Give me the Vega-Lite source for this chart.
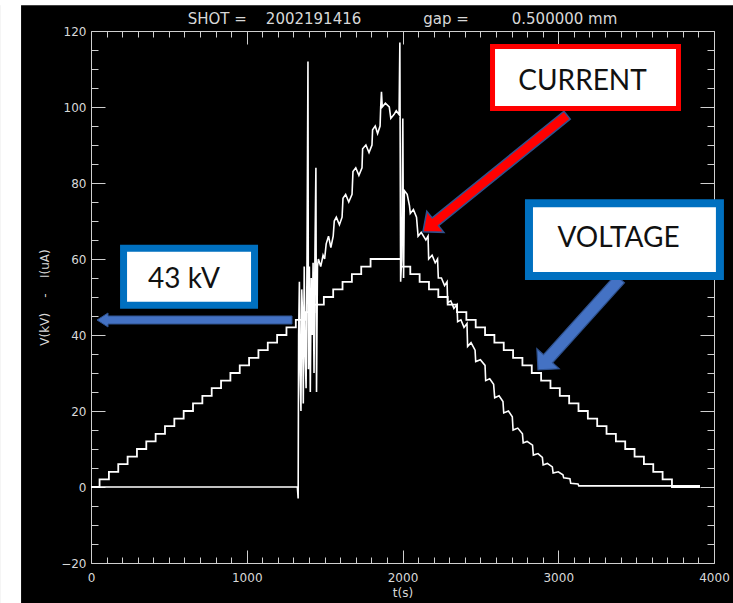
{
  "$schema": "https://vega.github.io/schema/vega-lite/v6.json",
  "width": 623,
  "height": 532,
  "autosize": {"type": "none"},
  "padding": {"left": 91, "top": 31, "right": 19, "bottom": 40},
  "background": "black",
  "config": {
    "view": {"stroke": null},
    "axis": {
      "grid": false,
      "domainColor": "#cfcfcf",
      "tickColor": "#cfcfcf",
      "labelColor": "#d8d8d8",
      "titleColor": "#d8d8d8",
      "labelFont": "DejaVu Sans",
      "titleFont": "DejaVu Sans",
      "labelFontSize": 12,
      "titleFontSize": 12,
      "titleFontWeight": "normal",
      "labelFlush": false,
      "labelOverlap": false,
      "domainWidth": 1,
      "tickWidth": 1
    }
  },
  "title": {
    "text": "SHOT =\u00a0\u00a0\u00a0\u00a02002191416\u00a0\u00a0\u00a0\u00a0\u00a0\u00a0\u00a0\u00a0\u00a0\u00a0\u00a0\u00a0\u00a0gap =\u00a0\u00a0\u00a0\u00a0\u00a0\u00a0\u00a0\u00a0\u00a00.500000 mm",
    "color": "#d8d8d8",
    "font": "DejaVu Sans",
    "fontSize": 15,
    "fontWeight": "normal",
    "anchor": "middle",
    "frame": "group",
    "offset": -27
  },
  "datasets": {
    "voltage": [
      {"t": 0, "v": 0}, {"t": 55, "v": 2}, {"t": 115, "v": 4}, {"t": 175, "v": 6}, {"t": 235, "v": 8},
      {"t": 295, "v": 10}, {"t": 355, "v": 12}, {"t": 415, "v": 14}, {"t": 475, "v": 16}, {"t": 535, "v": 18},
      {"t": 595, "v": 20}, {"t": 655, "v": 22}, {"t": 715, "v": 24}, {"t": 775, "v": 26}, {"t": 835, "v": 28},
      {"t": 895, "v": 30}, {"t": 955, "v": 32}, {"t": 1015, "v": 34}, {"t": 1075, "v": 36}, {"t": 1135, "v": 38},
      {"t": 1195, "v": 40}, {"t": 1255, "v": 42}, {"t": 1315, "v": 44}, {"t": 1375, "v": 46}, {"t": 1435, "v": 48},
      {"t": 1495, "v": 50}, {"t": 1555, "v": 52}, {"t": 1615, "v": 54}, {"t": 1675, "v": 56}, {"t": 1735, "v": 58},
      {"t": 1795, "v": 60}, {"t": 1990, "v": 58}, {"t": 2050, "v": 56}, {"t": 2110, "v": 54}, {"t": 2170, "v": 52},
      {"t": 2230, "v": 50}, {"t": 2290, "v": 48}, {"t": 2350, "v": 46}, {"t": 2410, "v": 44}, {"t": 2470, "v": 42},
      {"t": 2530, "v": 40}, {"t": 2590, "v": 38}, {"t": 2650, "v": 36}, {"t": 2710, "v": 34}, {"t": 2770, "v": 32},
      {"t": 2830, "v": 30}, {"t": 2890, "v": 28}, {"t": 2950, "v": 26}, {"t": 3010, "v": 24}, {"t": 3070, "v": 22},
      {"t": 3130, "v": 20}, {"t": 3190, "v": 18}, {"t": 3250, "v": 16}, {"t": 3310, "v": 14}, {"t": 3370, "v": 12},
      {"t": 3430, "v": 10}, {"t": 3490, "v": 8}, {"t": 3550, "v": 6}, {"t": 3610, "v": 4}, {"t": 3670, "v": 2},
      {"t": 3730, "v": 0}, {"t": 3910, "v": 0}
    ],
    "current": [
      {"t": 0, "i": 0}, {"t": 1325, "i": 0}, {"t": 1330, "i": -3}, {"t": 1333, "i": 40}, {"t": 1338, "i": 54},
      {"t": 1343, "i": 30}, {"t": 1348, "i": 20}, {"t": 1353, "i": 52}, {"t": 1358, "i": 46}, {"t": 1363, "i": 22},
      {"t": 1369, "i": 58}, {"t": 1375, "i": 35}, {"t": 1381, "i": 26}, {"t": 1387, "i": 60}, {"t": 1393, "i": 112},
      {"t": 1396, "i": 31}, {"t": 1402, "i": 58}, {"t": 1408, "i": 25}, {"t": 1414, "i": 55}, {"t": 1420, "i": 40},
      {"t": 1426, "i": 59}, {"t": 1432, "i": 30}, {"t": 1438, "i": 62}, {"t": 1444, "i": 84}, {"t": 1448, "i": 25},
      {"t": 1454, "i": 58}, {"t": 1460, "i": 60}, {"t": 1475, "i": 58}, {"t": 1490, "i": 61}, {"t": 1500, "i": 60},
      {"t": 1510, "i": 64}, {"t": 1525, "i": 66}, {"t": 1540, "i": 63}, {"t": 1555, "i": 66}, {"t": 1562, "i": 70},
      {"t": 1575, "i": 71}, {"t": 1595, "i": 69}, {"t": 1612, "i": 71}, {"t": 1618, "i": 76}, {"t": 1635, "i": 77},
      {"t": 1655, "i": 75}, {"t": 1676, "i": 77}, {"t": 1682, "i": 83}, {"t": 1700, "i": 84}, {"t": 1720, "i": 82},
      {"t": 1740, "i": 84}, {"t": 1744, "i": 89}, {"t": 1765, "i": 90}, {"t": 1785, "i": 88}, {"t": 1804, "i": 90},
      {"t": 1808, "i": 94}, {"t": 1825, "i": 95}, {"t": 1840, "i": 93}, {"t": 1856, "i": 95}, {"t": 1860, "i": 100},
      {"t": 1865, "i": 104}, {"t": 1870, "i": 100}, {"t": 1890, "i": 101}, {"t": 1915, "i": 100}, {"t": 1925, "i": 97},
      {"t": 1945, "i": 98}, {"t": 1960, "i": 99}, {"t": 1978, "i": 98}, {"t": 1983, "i": 117}, {"t": 1988, "i": 54},
      {"t": 1995, "i": 60}, {"t": 2002, "i": 97}, {"t": 2007, "i": 55}, {"t": 2012, "i": 78}, {"t": 2030, "i": 77},
      {"t": 2045, "i": 74}, {"t": 2050, "i": 72}, {"t": 2070, "i": 73}, {"t": 2090, "i": 71}, {"t": 2100, "i": 66},
      {"t": 2120, "i": 67}, {"t": 2150, "i": 65}, {"t": 2164, "i": 66}, {"t": 2168, "i": 60}, {"t": 2190, "i": 61},
      {"t": 2210, "i": 59}, {"t": 2225, "i": 60}, {"t": 2230, "i": 55}, {"t": 2250, "i": 55}, {"t": 2270, "i": 53},
      {"t": 2286, "i": 54}, {"t": 2290, "i": 48.5}, {"t": 2310, "i": 49}, {"t": 2330, "i": 47}, {"t": 2350, "i": 48},
      {"t": 2354, "i": 43.5}, {"t": 2375, "i": 44}, {"t": 2395, "i": 42}, {"t": 2414, "i": 43}, {"t": 2418, "i": 37},
      {"t": 2440, "i": 38}, {"t": 2466, "i": 36}, {"t": 2470, "i": 33}, {"t": 2500, "i": 33.5}, {"t": 2530, "i": 32},
      {"t": 2534, "i": 28}, {"t": 2560, "i": 28.5}, {"t": 2585, "i": 27}, {"t": 2592, "i": 23.5}, {"t": 2620, "i": 24},
      {"t": 2645, "i": 22.5}, {"t": 2650, "i": 19.5}, {"t": 2680, "i": 20}, {"t": 2705, "i": 18.5}, {"t": 2710, "i": 15},
      {"t": 2740, "i": 15.5}, {"t": 2770, "i": 14}, {"t": 2775, "i": 11.6}, {"t": 2800, "i": 12}, {"t": 2835, "i": 11},
      {"t": 2840, "i": 8.4}, {"t": 2870, "i": 8.8}, {"t": 2898, "i": 7.8}, {"t": 2903, "i": 5.8}, {"t": 2930, "i": 6.2},
      {"t": 2962, "i": 5.3}, {"t": 2967, "i": 3.7}, {"t": 3000, "i": 4}, {"t": 3030, "i": 3.2}, {"t": 3035, "i": 2.4},
      {"t": 3075, "i": 2.2}, {"t": 3080, "i": 1}, {"t": 3127, "i": 0.8}, {"t": 3132, "i": 0.3}, {"t": 3910, "i": 0.3}
    ]
  },
  "resolve": {"axis": {"x": "independent", "y": "independent"}},
  "layer": [
    {
      "data": {"values": [{}]},
      "mark": {"type": "rect", "color": "white", "clip": false},
      "encoding": {
        "x": {"datum": -584, "type": "quantitative", "scale": {"domain": [0, 4000], "nice": false, "zero": false}, "axis": null},
        "x2": {"datum": -449},
        "y": {"datum": 128.2, "type": "quantitative", "scale": {"domain": [-20, 120], "nice": false, "zero": false}, "axis": null},
        "y2": {"datum": -30.6}
      }
    },
    {
      "data": {"values": [{}]},
      "mark": {"type": "rect", "color": "white", "clip": false},
      "encoding": {
        "x": {"datum": -584, "type": "quantitative", "scale": {"domain": [0, 4000], "nice": false, "zero": false}, "axis": null},
        "x2": {"datum": 4200},
        "y": {"datum": 128.2, "type": "quantitative", "scale": {"domain": [-20, 120], "nice": false, "zero": false}, "axis": null},
        "y2": {"datum": 126.8}
      }
    },
    {
      "data": {"name": "voltage"},
      "mark": {"type": "line", "color": "white", "strokeWidth": 1.8, "interpolate": "step-after", "clip": true},
      "encoding": {
        "x": {
          "field": "t", "type": "quantitative",
          "scale": {"domain": [0, 4000], "nice": false, "zero": false},
          "axis": {
            "orient": "bottom",
            "values": [0, 1000, 2000, 3000, 4000],
            "format": "d",
            "tickSize": -13,
            "labelPadding": 22,
            "title": "t(s)",
            "titlePadding": 4
          }
        },
        "y": {
          "field": "v", "type": "quantitative",
          "scale": {"domain": [-20, 120], "nice": false, "zero": false},
          "axis": {
            "orient": "left",
            "values": [-20, 0, 20, 40, 60, 80, 100, 120],
            "format": "d",
            "tickSize": -14,
            "labelPadding": 19,
            "title": "V(kV)\u00a0\u00a0\u00a0\u00a0-\u00a0\u00a0\u00a0\u00a0I(uA)",
            "titlePadding": 9
          }
        }
      }
    },
    {
      "data": {"name": "current"},
      "mark": {"type": "line", "color": "white", "strokeWidth": 1.6, "clip": true},
      "encoding": {
        "x": {
          "field": "t", "type": "quantitative",
          "scale": {"domain": [0, 4000], "nice": false, "zero": false},
          "axis": {
            "orient": "top",
            "values": [0, 1000, 2000, 3000, 4000],
            "labels": false,
            "tickSize": -13,
            "title": null
          }
        },
        "y": {
          "field": "i", "type": "quantitative",
          "scale": {"domain": [-20, 120], "nice": false, "zero": false},
          "axis": {
            "orient": "right",
            "values": [-20, 0, 20, 40, 60, 80, 100, 120],
            "labels": false,
            "tickSize": -14,
            "title": null
          }
        }
      }
    },
    {
      "data": {"values": [{}]},
      "mark": {"type": "point", "shape": "M0,-1L0.146,-0.828L0.054,-0.828L0.054,1L-0.054,1L-0.054,-0.828L-0.146,-0.828Z", "filled": true, "fill": "#ff0000", "stroke": "#2f528f", "strokeWidth": 1.5, "opacity": 1, "size": 34410, "angle": 231, "clip": false},
      "encoding": {
        "x": {"datum": 2594, "type": "quantitative", "scale": {"domain": [0, 4000], "nice": false, "zero": false},
          "axis": {"orient": "bottom", "values": [100,200,300,400,500,600,700,800,900,1100,1200,1300,1400,1500,1600,1700,1800,1900,2100,2200,2300,2400,2500,2600,2700,2800,2900,3100,3200,3300,3400,3500,3600,3700,3800,3900], "labels": false, "domain": false, "tickSize": -6, "title": null}},
        "y": {"datum": 82.5, "type": "quantitative", "scale": {"domain": [-20, 120], "nice": false, "zero": false},
          "axis": {"orient": "left", "values": [-15,-10,-5,5,10,15,25,30,35,45,50,55,65,70,75,85,90,95,105,110,115], "labels": false, "domain": false, "tickSize": -7, "title": null}}
      }
    },
    {
      "data": {"values": [{}]},
      "mark": {"type": "point", "shape": "M0,-1L0.245,-0.755L0.098,-0.755L0.098,1L-0.098,1L-0.098,-0.755L-0.245,-0.755Z", "filled": true, "fill": "#4472c4", "stroke": "#2f528f", "strokeWidth": 1.2, "opacity": 1, "size": 15006, "angle": 222, "clip": false},
      "encoding": {
        "x": {"datum": 3133, "type": "quantitative", "scale": {"domain": [0, 4000], "nice": false, "zero": false},
          "axis": {"orient": "top", "values": [100,200,300,400,500,600,700,800,900,1100,1200,1300,1400,1500,1600,1700,1800,1900,2100,2200,2300,2400,2500,2600,2700,2800,2900,3100,3200,3300,3400,3500,3600,3700,3800,3900], "labels": false, "domain": false, "tickSize": -6, "title": null}},
        "y": {"datum": 42.8, "type": "quantitative", "scale": {"domain": [-20, 120], "nice": false, "zero": false},
          "axis": {"orient": "right", "values": [-15,-10,-5,5,10,15,25,30,35,45,50,55,65,70,75,85,90,95,105,110,115], "labels": false, "domain": false, "tickSize": -7, "title": null}}
      }
    },
    {
      "data": {"values": [{}]},
      "mark": {"type": "point", "shape": "M0,-1L0.072,-0.887L0.041,-0.887L0.041,1L-0.041,1L-0.041,-0.887L-0.072,-0.887Z", "filled": true, "fill": "#4472c4", "stroke": "#2f528f", "strokeWidth": 1, "opacity": 1, "size": 38025, "angle": 270, "clip": false},
      "encoding": {
        "x": {"datum": 664.5, "type": "quantitative", "scale": {"domain": [0, 4000], "nice": false, "zero": false}, "axis": null},
        "y": {"datum": 43.95, "type": "quantitative", "scale": {"domain": [-20, 120], "nice": false, "zero": false}, "axis": null}
      }
    },
    {
      "data": {"values": [{}]},
      "mark": {"type": "rect", "fill": "white", "stroke": "#ff0000", "strokeWidth": 5, "clip": false},
      "encoding": {
        "x": {"datum": 2578, "type": "quantitative", "scale": {"domain": [0, 4000], "nice": false, "zero": false}, "axis": null},
        "x2": {"datum": 3772},
        "y": {"datum": 115.9, "type": "quantitative", "scale": {"domain": [-20, 120], "nice": false, "zero": false}, "axis": null},
        "y2": {"datum": 99.6}
      }
    },
    {
      "data": {"values": [{}]},
      "mark": {"type": "rect", "fill": "white", "stroke": "#0070c0", "strokeWidth": 8, "clip": false},
      "encoding": {
        "x": {"datum": 2812, "type": "quantitative", "scale": {"domain": [0, 4000], "nice": false, "zero": false}, "axis": null},
        "x2": {"datum": 4038},
        "y": {"datum": 74.7, "type": "quantitative", "scale": {"domain": [-20, 120], "nice": false, "zero": false}, "axis": null},
        "y2": {"datum": 55.5}
      }
    },
    {
      "data": {"values": [{}]},
      "mark": {"type": "rect", "fill": "white", "stroke": "#0070c0", "strokeWidth": 7, "clip": false},
      "encoding": {
        "x": {"datum": 209, "type": "quantitative", "scale": {"domain": [0, 4000], "nice": false, "zero": false}, "axis": null},
        "x2": {"datum": 1050},
        "y": {"datum": 62.8, "type": "quantitative", "scale": {"domain": [-20, 120], "nice": false, "zero": false}, "axis": null},
        "y2": {"datum": 47.8}
      }
    },
    {
      "data": {"values": [{}]},
      "mark": {"type": "text", "text": "CURRENT", "font": "Lato", "fontSize": 28, "color": "#111111", "align": "center", "baseline": "middle", "clip": false},
      "encoding": {
        "x": {"datum": 3156, "type": "quantitative", "scale": {"domain": [0, 4000], "nice": false, "zero": false}, "axis": null},
        "y": {"datum": 106.7, "type": "quantitative", "scale": {"domain": [-20, 120], "nice": false, "zero": false}, "axis": null}
      }
    },
    {
      "data": {"values": [{}]},
      "mark": {"type": "text", "text": "VOLTAGE", "font": "Lato", "fontSize": 28, "color": "#111111", "align": "center", "baseline": "middle", "clip": false},
      "encoding": {
        "x": {"datum": 3387, "type": "quantitative", "scale": {"domain": [0, 4000], "nice": false, "zero": false}, "axis": null},
        "y": {"datum": 65.3, "type": "quantitative", "scale": {"domain": [-20, 120], "nice": false, "zero": false}, "axis": null}
      }
    },
    {
      "data": {"values": [{}]},
      "mark": {"type": "text", "text": "43 kV", "font": "Lato", "fontSize": 28, "color": "#111111", "align": "center", "baseline": "middle", "clip": false},
      "encoding": {
        "x": {"datum": 597, "type": "quantitative", "scale": {"domain": [0, 4000], "nice": false, "zero": false}, "axis": null},
        "y": {"datum": 54.5, "type": "quantitative", "scale": {"domain": [-20, 120], "nice": false, "zero": false}, "axis": null}
      }
    }
  ]
}
